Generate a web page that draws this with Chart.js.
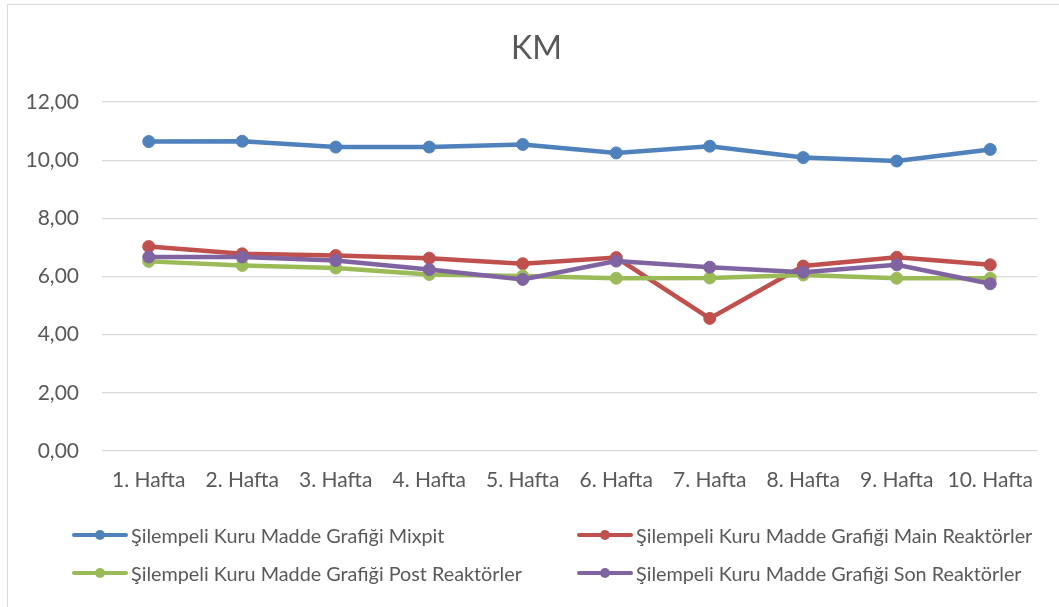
<!DOCTYPE html>
<html>
<head>
<meta charset="utf-8">
<script src="https://cdn.jsdelivr.net/npm/chart.js@4/dist/chart.umd.min.js"></script>
<style>
  html, body { margin: 0; padding: 0; background: #fff; overflow: hidden; }
  #wrap { position: relative; width: 1059px; height: 607px; }
  #frame { position: absolute; left: 7px; top: 4px; width: 1100px; height: 700px; border: 1px solid #d9d9d9; box-sizing: border-box; pointer-events: none; }
  canvas { position: absolute; left: 0; top: 0; }
  #legend { position: absolute; left: 0; top: 0; width: 1059px; height: 607px; pointer-events: none; font-family: Lato, "Open Sans", sans-serif; font-size: 19.8px; color: #595959; }
  .item { position: absolute; display: flex; align-items: center; height: 24px; white-space: nowrap; }
  .sample { position: relative; width: 56px; height: 24px; margin-right: 3px; }
  .sample .ln { position: absolute; left: 0; right: 0; top: 10px; height: 4px; border-radius: 2px; }
  .sample .dot { position: absolute; left: 23px; top: 7px; width: 10px; height: 10px; border-radius: 50%; }
</style>
</head>
<body>
<div id="wrap">
  <canvas id="c" width="1059" height="607"></canvas>
  <div id="frame"></div>
  <div id="legend"></div>
</div>
<script>
const chartTitle = "KM";
const categories = ["1. Hafta", "2. Hafta", "3. Hafta", "4. Hafta", "5. Hafta", "6. Hafta", "7. Hafta", "8. Hafta", "9. Hafta", "10. Hafta"];
const seriesNames = [
  "Şilempeli Kuru Madde Grafiği Mixpit",
  "Şilempeli Kuru Madde Grafiği Main Reaktörler",
  "Şilempeli Kuru Madde Grafiği Post Reaktörler",
  "Şilempeli Kuru Madde Grafiği Son Reaktörler"
];
const mixpit = [10.64, 10.65, 10.45, 10.45, 10.54, 10.25, 10.48, 10.09, 9.97, 10.37];
const mainReaktorler = [7.03, 6.78, 6.72, 6.63, 6.44, 6.65, 4.56, 6.36, 6.66, 6.40];
const postReaktorler = [6.52, 6.38, 6.29, 6.07, 6.02, 5.94, 5.95, 6.05, 5.94, 5.94];
const sonReaktorler = [6.67, 6.67, 6.55, 6.24, 5.90, 6.53, 6.32, 6.15, 6.40, 5.75];
const yTickLabels = ["0,00", "2,00", "4,00", "6,00", "8,00", "10,00", "12,00"];

const colors = ["#4F81BD", "#C0504D", "#9BBB59", "#8064A2"];
const allSeries = [mixpit, mainReaktorler, postReaktorler, sonReaktorler];
const FONT = "Lato, 'Open Sans', sans-serif";
const TEXT = "#595959";

const datasets = allSeries.map((vals, i) => ({
  label: seriesNames[i],
  data: vals,
  borderColor: colors[i],
  backgroundColor: colors[i],
  pointBackgroundColor: colors[i],
  pointBorderColor: colors[i],
  borderWidth: 4.5,
  pointRadius: 6,
  pointBorderWidth: 1,
  tension: 0,
  fill: false,
  order: allSeries.length - i
}));

// shift the title's horizontal span so it is centred like the original
const titleShift = {
  id: 'titleShift',
  afterLayout(chart) {
    if (chart.titleBlock) { chart.titleBlock.left = 36; chart.titleBlock.right = 1037; }
  }
};

const chart = new Chart(document.getElementById('c'), {
  type: 'line',
  data: { labels: categories, datasets },
  plugins: [titleShift],
  options: {
    responsive: false,
    animation: false,
    devicePixelRatio: 1,
    layout: { padding: { left: 0, right: 22, top: 0, bottom: 114 } },
    plugins: {
      legend: { display: false },
      tooltip: { enabled: false },
      title: {
        display: true,
        text: chartTitle,
        color: TEXT,
        font: { family: FONT, size: 32, weight: 'normal' },
        padding: { top: 29, bottom: 34.6 }
      }
    },
    scales: {
      x: {
        offset: true,
        grid: { display: false, drawTicks: false },
        border: { display: false },
        ticks: { color: TEXT, font: { family: FONT, size: 21 }, padding: 17, maxRotation: 0, autoSkip: false },
        afterFit: s => { s.height = 42; }
      },
      y: {
        min: 0, max: 12,
        ticks: {
          stepSize: 2,
          color: TEXT,
          font: { family: FONT, size: 21 },
          padding: 23,
          callback: (v, idx) => yTickLabels[idx]
        },
        grid: { color: "#d9d9d9", lineWidth: 1.3, drawTicks: false },
        border: { display: false },
        afterFit: s => { s.width = 102; }
      }
    }
  }
});

// HTML legend built from the chart's datasets (Excel-like two-column grid)
const legendPos = [[72, 523], [577, 523], [72, 561], [577, 561]];
const legendEl = document.getElementById('legend');
chart.data.datasets.forEach((ds, i) => {
  const item = document.createElement('div');
  item.className = 'item';
  item.style.left = legendPos[i][0] + 'px';
  item.style.top = legendPos[i][1] + 'px';
  const sample = document.createElement('div');
  sample.className = 'sample';
  const ln = document.createElement('div'); ln.className = 'ln'; ln.style.background = ds.borderColor;
  const dot = document.createElement('div'); dot.className = 'dot'; dot.style.background = ds.borderColor;
  sample.appendChild(ln); sample.appendChild(dot);
  const txt = document.createElement('span'); txt.textContent = ds.label;
  item.appendChild(sample); item.appendChild(txt);
  legendEl.appendChild(item);
});
</script>
</body>
</html>
